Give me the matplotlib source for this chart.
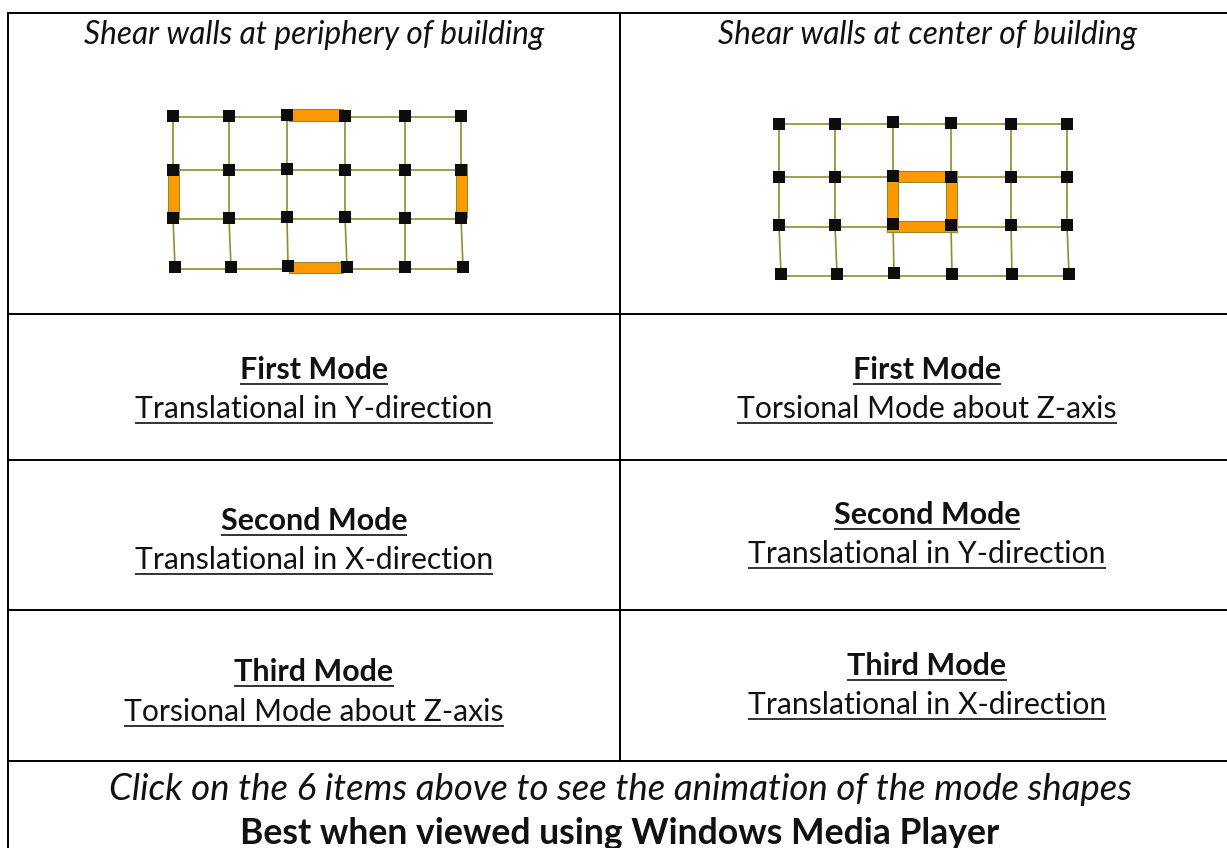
import matplotlib
matplotlib.use("Agg")
import matplotlib.pyplot as plt
import numpy as np

plt.rcParams['font.family'] = ['Lato', 'DejaVu Sans']

# plan node positions (pixels)
left_x = [[173, 229, 287, 345, 405, 461], [173, 229, 287, 345, 405, 461],
          [173, 229, 287, 345, 405, 461], [175, 231, 288, 347, 405, 463]]
left_y = [[116, 116, 115, 116, 116, 116], [170, 170, 169, 170, 170, 170],
          [218, 218, 217, 217, 218, 218], [267, 267, 266, 267, 267, 267]]
right_x = [[779, 835, 893, 951, 1011, 1067], [779, 835, 893, 951, 1011, 1067],
           [779, 835, 893, 951, 1011, 1067], [781, 837, 894, 952, 1012, 1069]]
right_y = [[124, 124, 122, 123, 124, 124], [177, 177, 176, 177, 177, 177],
           [225, 225, 224, 225, 225, 225], [274, 274, 273, 274, 274, 274]]

# beams sit a little below the node centres
left_beam_y = [116.5, 170, 219, 269]
right_beam_y = [124, 177, 226.5, 275.5]

# shear walls: x0, y0, width, height
left_walls = [(289, 109, 54, 12), (168, 164, 11, 54), (456, 164, 11, 54), (289, 262, 54, 11)]
right_walls = [(887, 171, 70, 11), (887, 171, 11, 61), (946, 171, 11, 61), (887, 221, 70, 11)]

headers = ["Shear walls at periphery of building", "Shear walls at center of building"]
footer1 = "Click on the 6 items above to see the animation of the mode shapes"
footer2 = "Best when viewed using Windows Media Player"

mode_titles = ["First Mode", "Second Mode", "Third Mode"]
left_modes = ["Translational in Y-direction", "Translational in X-direction", "Torsional Mode about Z-axis"]
right_modes = ["Torsional Mode about Z-axis", "Translational in Y-direction", "Translational in X-direction"]
left_title_y = [370, 521, 672]
left_mode_y = [409, 560, 712]
right_title_y = [370, 515, 666]
right_mode_y = [409, 554, 705]

fig = plt.figure(figsize=(12.27, 8.48), dpi=100)
ax = fig.add_axes([0, 0, 1, 1])
ax.set_xlim(0, 1227)
ax.set_ylim(848, 0)
ax.axis('off')

# table rules
for y in [12.5, 314, 459.5, 610, 761]:
    ax.plot([7, 1227], [y, y], color='black', lw=1.4, solid_capstyle='butt')
ax.plot([7.5, 7.5], [12, 848], color='black', lw=1.4, solid_capstyle='butt')
ax.plot([619.5, 619.5], [12, 761], color='black', lw=1.4, solid_capstyle='butt')


def draw_plan(xs, ys, beam_y, walls):
    xs = np.array(xs)
    ys = np.array(ys)
    for x0, y0, w, h in walls:
        ax.add_patch(plt.Rectangle((x0, y0), w, h, fc='#ff9900', ec='#8c8c30', lw=0.8, zorder=2))
    for i in range(4):
        ax.plot(xs[i], [beam_y[i]] * 6, color='#8f8f28', lw=1.2, zorder=1)
    for j in range(6):
        ax.plot(xs[:, j], ys[:, j], color='#8f8f28', lw=1.2, zorder=1)
    ax.scatter(xs.ravel(), ys.ravel(), marker='s', s=80, color='#0d0d0d', linewidths=0, zorder=3)


def underlined(x, y, s, **kw):
    t = ax.text(x, y, s, ha='center', va='center', color='#111111', **kw)
    bb = t.get_window_extent(fig.canvas.get_renderer())
    base = y + kw['fontsize'] * 0.66
    ax.plot([bb.x0, bb.x1], [base, base], color='#111111', lw=1.2, solid_capstyle='butt')


draw_plan(left_x, left_y, left_beam_y, left_walls)
draw_plan(right_x, right_y, right_beam_y, right_walls)

ax.text(314, 35, headers[0], ha='center', va='center', fontsize=22.8, style='italic', color='#111111')
ax.text(927, 35, headers[1], ha='center', va='center', fontsize=22.8, style='italic', color='#111111')

for i in range(3):
    underlined(314, left_title_y[i], mode_titles[i], fontsize=21.9, fontweight='bold')
    underlined(314, left_mode_y[i], left_modes[i], fontsize=21.7)
    underlined(927, right_title_y[i], mode_titles[i], fontsize=21.9, fontweight='bold')
    underlined(927, right_mode_y[i], right_modes[i], fontsize=21.7)

ax.text(620, 789, footer1, ha='center', va='center', fontsize=26.4, style='italic', color='#111111')
ax.text(620, 833, footer2, ha='center', va='center', fontsize=25.6, fontweight='bold', color='#111111')

fig.savefig('out.png', dpi=100)
